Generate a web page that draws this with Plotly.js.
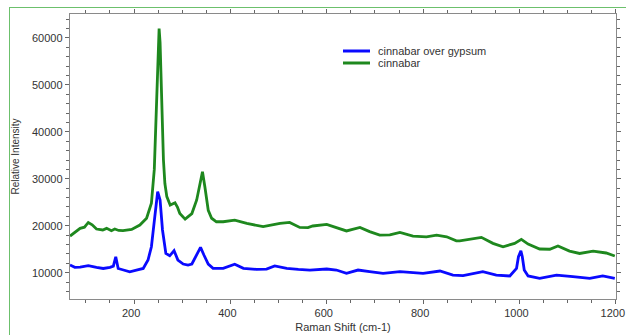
<!DOCTYPE html>
<html><head><meta charset="utf-8">
<script src="https://cdn.plot.ly/plotly-3.0.1.min.js"></script>
<style>
html,body{margin:0;padding:0;background:#fff;}
#wrap{position:relative;width:626px;height:335px;overflow:hidden;}
#frame{position:absolute;left:9px;top:7px;width:640px;height:400px;border-top:1.5px solid #6cc06c;border-left:1.5px solid #6cc06c;pointer-events:none;}
#chart{position:absolute;left:0;top:0;width:626px;height:335px;}
</style></head>
<body><div id="wrap"><div id="chart"></div><div id="frame"></div></div>
<script>
const gypsumX = [67,77,88,105,122,136,150,157,162,167,178,191,205,219,229,236,243,249,254,259,266,274,283,291,302,312,320,330,338,345,354,364,385,409,427,454,475,492,517,541,565,600,620,641,665,689,717,752,779,800,835,862,883,924,952,980,994,998,1003,1006,1010,1018,1042,1077,1111,1146,1173,1198];
const gypsumY = [11640,11150,11200,11500,11150,10900,11150,11400,13400,10900,10570,10200,10570,10900,12700,15530,21900,27240,25500,19100,14100,13600,14700,12700,11850,11640,11850,13770,15400,13770,11850,10930,10930,11790,10930,10700,10780,11430,10930,10700,10570,10790,10570,9870,10570,10220,9870,10220,10000,9870,10360,9500,9360,10220,9500,9300,10930,13400,14680,13400,10570,9300,8800,9500,9150,8800,9300,8800];
const cinnabarX = [67,77,88,97,105,113,122,135,143,153,160,168,177,195,212,226,236,242,246,249,251,252,254,256,258,261,264,268,275,285,290,295,306,320,330,337,342,347,354,361,371,385,409,434,468,503,523,544,561,571,600,620,641,669,689,710,731,752,779,807,828,849,869,876,897,921,945,966,990,1004,1018,1042,1063,1080,1104,1125,1153,1180,1198];
const cinnabarY = [17800,18600,19450,19700,20700,20200,19300,19100,19450,18950,19300,19000,18950,19200,20150,21600,24800,32000,44000,56000,61000,62000,59000,50000,42000,34000,29000,26200,24400,24900,24000,22600,21400,22600,25500,29100,31500,28300,23300,21600,20850,20850,21200,20500,19800,20500,20700,19650,19600,19950,20300,19600,18900,19650,18750,18000,18050,18600,17800,17650,18000,17650,16800,16800,17100,17530,16250,15530,16250,17100,16100,15050,15000,15700,14600,14100,14600,14200,13550];
const seriesNames = ["cinnabar over gypsum","cinnabar"];
const seriesColors = ['#0a0aff','#1e881e'];
const xTickVals = [200,400,600,800,1000,1200];
const yTickVals = [10000,20000,30000,40000,50000,60000];

const FONT = 'Liberation Sans, Arial, sans-serif';
const traces = [
 {x:gypsumX,y:gypsumY,name:seriesNames[0],type:'scatter',mode:'lines',line:{color:seriesColors[0],width:2.8}},
 {x:cinnabarX,y:cinnabarY,name:seriesNames[1],type:'scatter',mode:'lines',line:{color:seriesColors[1],width:2.8}}
];
// legend drawn as paper-space samples (to match the compact row spacing)
const W = 546, H = 285, L = 70, T = 14;
const px = v => (v - L) / W, py = v => 1 - (v - T) / H;
const legRows = [51, 63];
const shapes = seriesNames.map((n,i)=>({type:'line',xref:'paper',yref:'paper',x0:px(343),x1:px(370),y0:py(legRows[i]),y1:py(legRows[i]),line:{color:seriesColors[i],width:3}}));
const annotations = seriesNames.map((n,i)=>({text:n,xref:'paper',yref:'paper',x:px(376),y:py(legRows[i]),xanchor:'left',yanchor:'middle',showarrow:false,font:{family:FONT,size:11,color:'#333'}}));

const axisCommon = {showgrid:false,zeroline:false,showline:true,linecolor:'#8a8a8a',linewidth:1.2,mirror:'ticks',ticks:'outside',ticklen:4,tickcolor:'#666',ticklabeloverflow:'allow',tickfont:{family:FONT,size:11,color:'#333'}};
const layout = {
 width:626,height:335,margin:{l:70,r:10,t:14,b:36},
 paper_bgcolor:'rgba(0,0,0,0)',plot_bgcolor:'#fff',
 showlegend:false,shapes:shapes,annotations:annotations,
 xaxis:Object.assign({},axisCommon,{range:[67,1200.5],tickvals:xTickVals,tickformat:'d',ticklabelshift:-3,minor:{dtick:50,ticklen:3,ticks:'outside',tickcolor:'#666'},
   title:{text:'Raman Shift (cm-1)',font:{family:FONT,size:11,color:'#333'},standoff:4}}),
 yaxis:Object.assign({},axisCommon,{range:[4400,65100],tickvals:yTickVals,tickformat:'d',minor:{dtick:2000,ticklen:3,ticks:'outside',tickcolor:'#666'},
   title:{text:'Relative Intensity',font:{family:FONT,size:10,color:'#333'},standoff:10}})
};
Plotly.newPlot('chart',traces,layout,{staticPlot:true,displayModeBar:false});
</script></body></html>
